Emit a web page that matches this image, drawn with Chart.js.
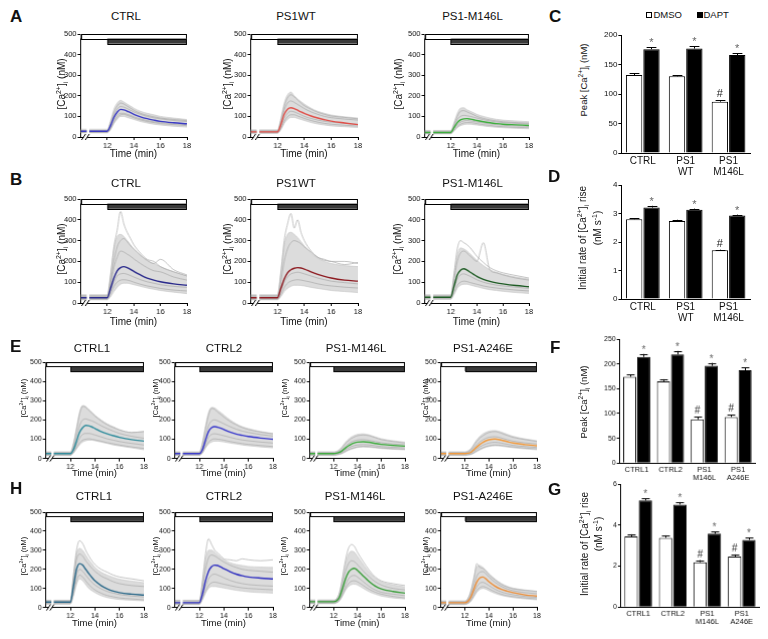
<!DOCTYPE html>
<html>
<head>
<meta charset="utf-8">
<script src="https://cdn.jsdelivr.net/npm/chart.js@4.4.1/dist/chart.umd.min.js"></script>
<style>
  body { margin: 0; width: 768px; height: 639px; position: relative; overflow: hidden; background: #fff;
         font-family: "Liberation Sans", Arial, sans-serif; color: #111; }
  canvas { position: absolute; }
  .t { position: absolute; white-space: nowrap; line-height: 1; }
  .rot { position: absolute; white-space: nowrap; line-height: 1; color: #111; transform: translate(-50%, -50%) rotate(-90deg); }
  sup, sub { font-size: 70%; line-height: 0; }
  .box { position: absolute; width: 6px; height: 6px; box-sizing: border-box; border: 1px solid #000; }
</style>
</head>
<body>
<script>
Chart.defaults.font.family = '"Liberation Sans", Arial, sans-serif';
Chart.defaults.color = '#111';

// time points (min), 10.55 is the axis break
const T = [10, 10.45, 10.55, 10.65, 12, 12.25, 12.5, 12.75, 13, 13.25, 13.5, 13.75, 14, 14.5, 15, 15.5, 16, 17, 18];
const lineTicksX = [12, 14, 16, 18];
const lineTicksY = [0, 100, 200, 300, 400, 500];

// ---- A ----
const aCtrlMean = [28,28,null,28,28, 55,95,120,134,132,125,118,110,98,89,82,76,69,64];
const aCtrlHi   = [38,38,null,38,38, 80,135,165,178,170,160,150,140,125,115,108,100,92,85];
const aCtrlLo   = [20,20,null,20,20, 35,65,85,100,100,95,90,85,75,68,62,58,52,48];
const aCtrlCells = [
  [32,32,null,32,32, 70,120,150,165,160,150,140,130,115,105,98,92,85,80],
  [25,25,null,25,25, 45,80,105,115,115,110,105,98,88,80,74,70,64,60],
  [30,30,null,30,30, 60,105,135,148,145,138,130,122,110,100,93,88,80,75],
  [22,22,null,22,22, 40,70,95,108,110,105,100,93,83,75,70,65,60,55]
];
const aWtMean = [25,25,null,25,25, 60,110,135,142,138,130,122,115,102,92,84,77,68,60];
const aWtHi   = [35,35,null,35,35, 90,165,205,218,200,185,172,160,140,125,115,107,98,92];
const aWtLo   = [18,18,null,18,18, 35,65,85,95,95,90,85,80,70,63,58,54,50,46];
const aWtCells = [
  [30,30,null,30,30, 80,150,190,205,195,180,165,152,135,120,110,102,95,88],
  [22,22,null,22,22, 50,90,115,125,122,115,108,100,90,82,76,72,66,62],
  [28,28,null,28,28, 70,130,165,175,168,158,148,138,122,110,100,94,87,82],
  [20,20,null,20,20, 40,75,98,108,108,102,96,90,80,72,66,62,57,53]
];
const aM146Mean = [22,22,null,22,22, 45,70,83,88,89,87,84,80,74,69,65,62,59,56];
const aM146Hi   = [32,32,null,32,32, 70,115,140,142,132,125,118,110,100,92,86,82,78,74];
const aM146Lo   = [15,15,null,15,15, 28,45,55,60,62,62,60,58,54,50,47,45,42,40];
const aM146Cells = [
  [28,28,null,28,28, 60,100,125,128,122,115,108,100,90,83,78,74,70,67],
  [20,20,null,20,20, 40,60,72,78,80,78,76,73,68,63,60,57,54,52],
  [25,25,null,25,25, 52,85,100,105,103,100,96,92,84,78,73,70,66,63],
  [18,18,null,18,18, 33,50,62,68,70,70,68,65,60,56,52,50,47,45]
];

// ---- B ----
const bCtrlMean = [25,25,null,25,25, 70,120,155,170,175,170,162,152,135,120,110,102,92,85];
const bCtrlHi   = [40,40,null,40,40, 140,260,320,330,320,300,280,260,230,205,190,175,150,130];
const bCtrlLo   = [15,15,null,15,15, 30,55,75,90,95,95,92,88,80,72,66,60,52,45];
const bCtrlCells = [
  [35,35,null,35,35, 130,270,350,440,380,340,310,280,240,210,200,175,150,130],
  [28,28,null,28,28, 90,170,220,250,245,235,225,212,190,170,155,150,125,110],
  [22,22,null,22,22, 60,100,130,140,142,138,132,125,112,102,95,88,80,75],
  [18,18,null,18,18, 45,80,100,110,112,110,106,100,90,82,76,70,62,58],
  [30,30,null,30,30, 100,200,270,300,310,295,275,260,230,205,190,210,160,135]
];
const bWtMean = [25,25,null,25,25, 70,115,145,160,167,170,168,163,150,138,128,120,110,105];
const bWtHi   = [40,40,null,40,40, 150,280,330,340,330,315,295,275,240,215,200,190,180,175];
const bWtLo   = [15,15,null,15,15, 30,55,70,80,85,85,84,82,75,70,65,60,55,50];
const bWtCells = [
  [35,35,null,35,35, 140,300,380,430,360,400,340,300,250,220,205,200,185,195],
  [30,30,null,30,30, 100,200,260,290,300,295,285,270,245,220,210,200,200,190],
  [22,22,null,22,22, 60,100,125,140,145,148,145,140,130,120,112,105,98,92],
  [18,18,null,18,18, 40,75,95,105,110,112,110,107,100,92,86,82,76,72]
];
const bM146Mean = [28,28,null,28,28, 80,135,158,165,158,148,138,128,114,104,97,92,84,78];
const bM146Hi   = [40,40,null,40,40, 130,230,265,260,250,235,220,205,180,160,148,138,125,115];
const bM146Lo   = [18,18,null,18,18, 40,70,85,90,90,86,82,78,70,64,60,56,50,46];
const bM146Cells = [
  [35,35,null,35,35, 140,260,300,290,280,265,245,225,195,170,155,145,132,120],
  [30,30,null,30,30, 110,200,240,250,240,225,210,200,290,160,145,135,120,110],
  [24,24,null,24,24, 70,115,135,140,135,128,120,112,100,92,86,82,76,70],
  [20,20,null,20,20, 50,85,100,105,103,98,94,90,82,76,72,68,62,58]
];

// ---- E ----
const eCtrl1Mean = [25,25,null,25,25, 45,90,135,160,172,170,164,156,140,128,118,110,98,90];
const eCtrl1Hi   = [35,35,null,35,35, 80,160,240,275,270,255,240,225,200,180,165,150,135,140];
const eCtrl1Lo   = [15,15,null,15,15, 28,50,70,85,92,95,95,92,85,78,70,65,55,45];
const eCtrl1Cells = [
  [30,30,null,30,30, 70,150,230,270,265,250,235,220,195,175,160,148,135,140],
  [28,28,null,28,28, 55,110,170,200,205,200,195,188,170,155,142,130,115,105],
  [22,22,null,22,22, 38,70,105,125,130,130,127,122,112,102,95,88,78,70],
  [18,18,null,18,18, 30,55,80,95,100,102,100,97,90,82,76,70,60,52]
];
const eCtrl2Mean = [25,25,null,25,25, 45,95,140,160,165,162,157,150,137,127,120,114,106,100];
const eCtrl2Hi   = [35,35,null,35,35, 85,170,240,265,262,250,238,225,200,180,165,155,140,130];
const eCtrl2Lo   = [15,15,null,15,15, 28,55,75,85,90,90,88,86,80,75,70,66,60,55];
const eCtrl2Cells = [
  [30,30,null,30,30, 75,155,225,260,255,240,228,215,192,175,160,150,137,128],
  [28,28,null,28,28, 55,115,170,195,200,195,188,180,165,152,142,135,124,116],
  [22,22,null,22,22, 38,75,110,125,128,126,122,118,110,102,96,92,85,80],
  [18,18,null,18,18, 30,60,85,98,102,100,98,95,88,82,77,73,67,62]
];
const eM146Mean = [25,25,null,25,25, 27,32,42,55,66,75,81,85,87,84,78,73,68,64];
const eM146Hi   = [35,35,null,35,35, 38,48,65,85,100,112,120,125,128,122,112,103,92,85];
const eM146Lo   = [15,15,null,15,15, 17,20,26,34,42,48,53,57,60,58,55,52,48,45];
const eM146Cells = [
  [30,30,null,30,30, 33,42,58,78,92,104,112,118,122,118,108,98,88,80],
  [28,28,null,28,28, 30,36,48,63,76,86,92,96,98,94,88,82,75,70],
  [22,22,null,22,22, 24,28,36,46,55,62,67,70,72,70,66,62,58,55],
  [18,18,null,18,18, 20,24,30,38,46,52,56,60,63,62,58,55,51,48]
];
const eA246Mean = [25,25,null,25,25, 27,32,45,60,73,84,92,97,101,96,88,80,72,66];
const eA246Hi   = [35,35,null,35,35, 40,52,75,98,115,128,136,142,145,138,126,115,102,92];
const eA246Lo   = [15,15,null,15,15, 17,20,27,36,44,52,58,62,66,64,60,56,50,45];
const eA246Cells = [
  [30,30,null,30,30, 35,46,68,90,106,118,128,135,140,132,120,110,98,88],
  [28,28,null,28,28, 30,38,55,72,86,97,105,110,113,107,98,90,81,75],
  [22,22,null,22,22, 24,28,38,50,60,69,75,80,84,80,74,68,62,57],
  [18,18,null,18,18, 20,23,30,40,49,56,62,66,70,68,64,60,54,50]
];

// ---- H ----
const hCtrl1Mean = [28,28,null,28,28, 110,200,230,222,200,178,158,140,115,98,86,78,70,65];
const hCtrl1Hi   = [38,38,null,38,38, 160,280,310,300,275,250,230,210,185,170,158,148,138,130];
const hCtrl1Lo   = [18,18,null,18,18, 60,120,150,140,120,100,88,78,62,52,46,42,38,35];
const hCtrl1Cells = [
  [35,35,null,35,35, 170,300,350,335,300,270,245,225,200,185,170,160,150,140],
  [32,32,null,32,32, 140,250,280,270,245,225,205,190,165,150,135,125,115,110],
  [24,24,null,24,24, 90,170,200,190,170,150,132,118,98,84,75,68,60,55],
  [20,20,null,20,20, 70,140,170,160,140,120,105,92,75,63,56,50,45,40]
];
const hCtrl2Mean = [25,25,null,25,25, 70,140,190,215,222,220,212,203,188,175,166,160,154,150];
const hCtrl2Hi   = [38,38,null,38,38, 130,250,300,300,290,275,262,250,235,225,220,215,212,210];
const hCtrl2Lo   = [15,15,null,15,15, 40,75,100,110,110,108,105,102,96,90,86,82,78,75];
const hCtrl2Cells = [
  [35,35,null,35,35, 140,280,360,330,300,285,270,255,250,245,255,250,245,250],
  [30,30,null,30,30, 100,200,260,275,270,260,248,238,222,210,200,195,190,185],
  [22,22,null,22,22, 55,110,150,170,175,170,163,155,142,132,125,120,115,112],
  [18,18,null,18,18, 45,85,115,130,133,130,126,122,115,108,103,100,96,93]
];
const hM146Mean = [30,30,null,30,30, 35,55,100,150,185,200,205,195,165,135,112,98,84,75];
const hM146Hi   = [40,40,null,40,40, 45,80,150,230,280,295,290,270,225,185,155,135,118,108];
const hM146Lo   = [20,20,null,20,20, 24,35,60,90,110,120,122,118,100,82,70,60,50,45];
const hM146Cells = [
  [35,35,null,35,35, 45,80,160,250,310,330,320,290,240,195,160,140,125,115],
  [32,32,null,32,32, 40,65,125,190,230,245,240,225,190,160,135,118,100,92],
  [26,26,null,26,26, 30,45,80,120,150,165,168,160,135,110,92,80,70,62],
  [22,22,null,22,22, 26,38,65,100,125,138,140,135,115,95,80,70,58,50]
];
const hA246Mean = [25,25,null,25,25, 32,55,95,135,155,160,150,135,112,96,86,78,66,60];
const hA246Hi   = [35,35,null,35,35, 48,90,160,215,220,210,195,178,150,128,112,102,92,85];
const hA246Lo   = [15,15,null,15,15, 20,32,55,80,95,100,96,88,74,64,57,52,45,40];
const hA246Cells = [
  [30,30,null,30,30, 45,85,150,230,210,205,190,172,145,122,108,98,90,84],
  [28,28,null,28,28, 38,68,115,165,185,188,176,160,132,112,98,88,78,72],
  [22,22,null,22,22, 27,45,78,110,128,132,125,115,96,82,73,67,58,53],
  [18,18,null,18,18, 22,36,62,90,105,110,106,98,82,70,62,57,50,45]
];

// ---- bar panels ----
const cdCats = ['CTRL', ['PS1', 'WT'], ['PS1', 'M146L']];
const cDmso = [132, 130, 87];
const cDmsoErr = [3, 2, 2];
const cDapt = [176, 177, 166];
const cDaptErr = [3, 4, 3];
const cTicks = [0, 50, 100, 150, 200];

const dDmso = [2.80, 2.74, 1.71];
const dDmsoErr = [0.04, 0.04, 0.02];
const dDapt = [3.21, 3.13, 2.93];
const dDaptErr = [0.06, 0.04, 0.03];
const dTicks = [0, 1, 2, 3, 4];
const cdHash = [false, false, true];

const fgCats = ['CTRL1', 'CTRL2', ['PS1', 'M146L'], ['PS1', 'A246E']];
const fDmso = [174, 165, 88, 93];
const fDmsoErr = [5, 4, 5, 4];
const fDapt = [214, 219, 196, 187];
const fDaptErr = [6, 7, 6, 6];
const fTicks = [0, 50, 100, 150, 200, 250];

const gDmso = [3.45, 3.38, 2.19, 2.47];
const gDmsoErr = [0.1, 0.12, 0.1, 0.1];
const gDapt = [5.2, 5.0, 3.58, 3.28];
const gDaptErr = [0.1, 0.12, 0.1, 0.12];
const gTicks = [0, 2, 4, 6];
const fgHash = [false, false, true, true];

const pts = v => T.map((t, i) => ({ x: t, y: v[i] }));

const stimBars = {
    id: 'stimBars',
    afterDatasetsDraw(ch) {
        const { ctx, chartArea: a } = ch;
        const x = ch.scales.x, y = ch.scales.y;
        const x0 = x.getPixelForValue(10), x1 = x.getPixelForValue(18), x12 = x.getPixelForValue(12);
        const y0 = y.getPixelForValue(500), y1 = y.getPixelForValue(478), y2 = y.getPixelForValue(453);
        ctx.save();
        ctx.lineWidth = 1;
        ctx.strokeStyle = '#000';
        ctx.fillStyle = '#fff';
        ctx.fillRect(x0, y0, x1 - x0, y1 - y0);
        ctx.strokeRect(Math.round(x0) + 0.5, Math.round(y0) + 0.5, Math.round(x1 - x0) - 1, Math.round(y1 - y0));
        ctx.fillStyle = '#3a3a3a';
        ctx.fillRect(x12, y1, x1 - x12, y2 - y1);
        ctx.strokeRect(Math.round(x12) + 0.5, Math.round(y1) + 0.5, Math.round(x1 - x12) - 1, Math.round(y2 - y1));
        // axis break
        const by = a.bottom;
        const p1 = x.getPixelForValue(10.22), p2 = x.getPixelForValue(10.5);
        ctx.fillStyle = '#fff';
        ctx.fillRect(p1, by - 1.5, p2 - p1, 3);
        ctx.beginPath();
        [p1, p2].forEach(px => { ctx.moveTo(px - 2, by + 3); ctx.lineTo(px + 2, by - 3); });
        ctx.stroke();
        ctx.restore();
    }
};

const errBars = {
    id: 'errBars',
    afterDatasetsDraw(ch) {
        const { ctx } = ch;
        const y = ch.scales.y;
        const fs = ch.options.markSize;
        ch.data.datasets.forEach((d, di) => {
            ch.getDatasetMeta(di).data.forEach((bar, i) => {
                const top = y.getPixelForValue(d.data[i] + d.err[i]);
                const cw = bar.width * 0.3;
                const bx = Math.round(bar.x) + 0.5;
                ctx.save();
                ctx.strokeStyle = '#000';
                ctx.lineWidth = 1;
                ctx.beginPath();
                ctx.moveTo(bx, bar.y);
                ctx.lineTo(bx, top);
                ctx.moveTo(bx - cw, Math.round(top) + 0.5);
                ctx.lineTo(bx + cw, Math.round(top) + 0.5);
                ctx.stroke();
                ctx.textAlign = 'center';
                ctx.textBaseline = 'alphabetic';
                if (d.mark === '*') {
                    ctx.fillStyle = '#666';
                    ctx.font = fs + 'px "Liberation Sans", Arial';
                    ctx.fillText('*', bar.x, top - 1);
                } else if (d.hash && d.hash[i]) {
                    ctx.fillStyle = '#222';
                    ctx.font = fs + 'px "Liberation Sans", Arial';
                    ctx.fillText('#', bar.x, top - 3);
                }
                ctx.restore();
            });
        });
    }
};

function axisStyle(size) {
    return {
        grid: { display: true, drawOnChartArea: false, drawTicks: true, tickLength: 3, color: '#000', lineWidth: 1 },
        border: { display: true, color: '#000', width: 1 },
        ticks: { font: { size: size }, color: '#111', padding: 1, maxRotation: 0, autoSkip: false }
    };
}

function lineCfg(p) {
    // first dataset is drawn on top, so the mean goes first and the band last
    const ds = [{ data: pts(p.mean), borderColor: p.color, borderWidth: 1.4, fill: false }];
    p.cells.forEach(c => ds.push({ data: pts(c), borderColor: '#ababab', borderWidth: 0.7, fill: false }));
    ds.push({ data: pts(p.lo), borderColor: '#c4c4c4', borderWidth: 0.6, fill: false });
    ds.push({ data: pts(p.hi), borderColor: '#c4c4c4', borderWidth: 0.6, backgroundColor: '#dcdcdc', fill: '-1' });
    const xs = axisStyle(p.fs), ys = axisStyle(p.fs);
    return {
        type: 'line',
        data: { datasets: ds },
        options: {
            responsive: false, animation: false, maintainAspectRatio: false,
            layout: { padding: { top: 6, right: 8, left: 2, bottom: 2 } },
            elements: { point: { radius: 0 }, line: { cubicInterpolationMode: 'monotone' } },
            plugins: { legend: { display: false }, tooltip: { enabled: false } },
            scales: {
                x: Object.assign(xs, { type: 'linear', min: 10, max: 18,
                    afterBuildTicks: s => { s.ticks = lineTicksX.map(v => ({ value: v })); } }),
                y: Object.assign(ys, { min: 0, max: 500,
                    afterBuildTicks: s => { s.ticks = lineTicksY.map(v => ({ value: v })); } })
            }
        },
        plugins: [stimBars]
    };
}

function barCfg(b) {
    const xs = axisStyle(b.xfs), ys = axisStyle(b.yfs);
    xs.grid = { display: false, drawTicks: false, tickLength: 0 };
    xs.ticks.padding = 3;
    xs.ticks.font.lineHeight = 1.05;
    return {
        type: 'bar',
        data: {
            labels: b.cats,
            datasets: [
                { data: b.dmso, err: b.dmsoErr, hash: b.hash, backgroundColor: '#fff', borderColor: '#000', borderWidth: 1 },
                { data: b.dapt, err: b.daptErr, mark: '*', backgroundColor: '#000', borderColor: '#000', borderWidth: 1 }
            ]
        },
        options: {
            responsive: false, animation: false, maintainAspectRatio: false,
            markSize: b.mfs,
            categoryPercentage: b.cp, barPercentage: b.bp,
            layout: { padding: { top: 6, right: 4, left: 2, bottom: 2 } },
            plugins: { legend: { display: false }, tooltip: { enabled: false } },
            scales: {
                x: xs,
                y: Object.assign(ys, { min: 0, max: b.ticks[b.ticks.length - 1],
                    afterBuildTicks: s => { s.ticks = b.ticks.map(v => ({ value: v })); } })
            }
        },
        plugins: [errBars]
    };
}

// place a chart so that its plot area lands on the given box
function mount(box, make) {
    let w = box.r - box.l + 40, h = box.b - box.t + 40;
    for (let k = 0; k < 3; k++) {
        const cv = document.createElement('canvas');
        cv.width = w; cv.height = h;
        cv.style.width = w + 'px'; cv.style.height = h + 'px';
        document.body.appendChild(cv);
        const ch = new Chart(cv, make());
        const a = ch.chartArea;
        const dw = (box.r - box.l) - (a.right - a.left), dh = (box.b - box.t) - (a.bottom - a.top);
        if (k < 2 && (Math.abs(dw) > 0.5 || Math.abs(dh) > 0.5)) {
            ch.destroy(); cv.remove(); w += dw; h += dh; continue;
        }
        cv.style.left = (box.l - a.left) + 'px';
        cv.style.top = (box.t - a.top) + 'px';
        break;
    }
}

function txt(html, x, base, size, align, extra) {
    const d = document.createElement('div');
    d.className = 't';
    d.innerHTML = html;
    d.style.fontSize = size + 'px';
    d.style.left = x + 'px';
    d.style.top = (base - 0.8465 * size) + 'px';
    if (align === 'center') d.style.transform = 'translateX(-50%)';
    if (extra) Object.assign(d.style, extra);
    document.body.appendChild(d);
}

function rot(html, cx, cy, size) {
    const d = document.createElement('div');
    d.className = 'rot';
    d.innerHTML = html;
    d.style.fontSize = size + 'px';
    d.style.left = cx + 'px';
    d.style.top = cy + 'px';
    document.body.appendChild(d);
}

const caLabel = '[Ca<sup>2+</sup>]<sub>i</sub> (nM)';

// ---- line panels ----
const linePanels = [
    { box: { l: 81, t: 34, r: 186, b: 137 }, fs: 7.5, mean: aCtrlMean, hi: aCtrlHi, lo: aCtrlLo, cells: aCtrlCells, color: '#3b3bc4', title: 'CTRL', tx: 126, ty: 20.7, yl: 62, yc: 84, tb: 157.5, lfs: 10 },
    { box: { l: 251, t: 34, r: 357, b: 137 }, fs: 7.5, mean: aWtMean, hi: aWtHi, lo: aWtLo, cells: aWtCells, color: '#e0504a', title: 'PS1WT', tx: 296, ty: 20.7, yl: 228, yc: 84, tb: 157.5, lfs: 10 },
    { box: { l: 425, t: 34, r: 528, b: 137 }, fs: 7.5, mean: aM146Mean, hi: aM146Hi, lo: aM146Lo, cells: aM146Cells, color: '#3fae3f', title: 'PS1-M146L', tx: 472.5, ty: 20.7, yl: 399, yc: 84, tb: 157.5, lfs: 10 },
    { box: { l: 81, t: 199, r: 186, b: 303 }, fs: 7.5, mean: bCtrlMean, hi: bCtrlHi, lo: bCtrlLo, cells: bCtrlCells, color: '#2a2a8c', title: 'CTRL', tx: 126, ty: 187.3, yl: 62, yc: 249, tb: 325, lfs: 10 },
    { box: { l: 251, t: 199, r: 357, b: 303 }, fs: 7.5, mean: bWtMean, hi: bWtHi, lo: bWtLo, cells: bWtCells, color: '#8e1c22', title: 'PS1WT', tx: 296, ty: 187.3, yl: 228, yc: 249, tb: 325, lfs: 10 },
    { box: { l: 425, t: 199, r: 528, b: 303 }, fs: 7.5, mean: bM146Mean, hi: bM146Hi, lo: bM146Lo, cells: bM146Cells, color: '#1f5c25', title: 'PS1-M146L', tx: 472.5, ty: 187.3, yl: 398, yc: 249, tb: 325, lfs: 10 },
    { box: { l: 46, t: 362, r: 143, b: 458 }, fs: 7, mean: eCtrl1Mean, hi: eCtrl1Hi, lo: eCtrl1Lo, cells: eCtrl1Cells, color: '#2f8c9c', title: 'CTRL1', tx: 92, ty: 353, yl: 24, yc: 398, tb: 476, lfs: 7.5 },
    { box: { l: 175, t: 362, r: 272, b: 458 }, fs: 7, mean: eCtrl2Mean, hi: eCtrl2Hi, lo: eCtrl2Lo, cells: eCtrl2Cells, color: '#3838cc', title: 'CTRL2', tx: 224, ty: 353, yl: 156, yc: 398, tb: 476, lfs: 7.5 },
    { box: { l: 310, t: 362, r: 404, b: 458 }, fs: 7, mean: eM146Mean, hi: eM146Hi, lo: eM146Lo, cells: eM146Cells, color: '#3dab3d', title: 'PS1-M146L', tx: 356, ty: 353, yl: 285, yc: 398, tb: 476, lfs: 7.5 },
    { box: { l: 441, t: 362, r: 536, b: 458 }, fs: 7, mean: eA246Mean, hi: eA246Hi, lo: eA246Lo, cells: eA246Cells, color: '#f29a3c', title: 'PS1-A246E', tx: 483, ty: 353, yl: 426, yc: 398, tb: 476, lfs: 7.5 },
    { box: { l: 46, t: 512, r: 143, b: 607 }, fs: 7, mean: hCtrl1Mean, hi: hCtrl1Hi, lo: hCtrl1Lo, cells: hCtrl1Cells, color: '#2d6a8a', title: 'CTRL1', tx: 94, ty: 500.5, yl: 24, yc: 556, tb: 626, lfs: 7.5 },
    { box: { l: 175, t: 512, r: 272, b: 607 }, fs: 7, mean: hCtrl2Mean, hi: hCtrl2Hi, lo: hCtrl2Lo, cells: hCtrl2Cells, color: '#3030c0', title: 'CTRL2', tx: 224, ty: 500.5, yl: 156, yc: 556, tb: 626, lfs: 7.5 },
    { box: { l: 310, t: 512, r: 404, b: 607 }, fs: 7, mean: hM146Mean, hi: hM146Hi, lo: hM146Lo, cells: hM146Cells, color: '#3a9e3a', title: 'PS1-M146L', tx: 355, ty: 500.5, yl: 284, yc: 556, tb: 626, lfs: 7.5 },
    { box: { l: 441, t: 512, r: 536, b: 607 }, fs: 7, mean: hA246Mean, hi: hA246Hi, lo: hA246Lo, cells: hA246Cells, color: '#ec8f3a', title: 'PS1-A246E', tx: 483, ty: 500.5, yl: 426, yc: 556, tb: 626, lfs: 7.5 }
];

linePanels.forEach(p => {
    mount(p.box, () => lineCfg(p));
    txt(p.title, p.tx, p.ty, 11.5, 'center');
    rot(caLabel, p.yl, p.yc, p.lfs);
    txt('Time (min)', (p.box.l + p.box.r) / 2, p.tb, p.fs > 7 ? 10 : 9.5, 'center');
});

// ---- bar panels ----
mount({ l: 621, t: 35, r: 750, b: 153 }, () => barCfg({ cats: cdCats, dmso: cDmso, dmsoErr: cDmsoErr, dapt: cDapt, daptErr: cDaptErr, hash: cdHash, ticks: cTicks, xfs: 10, yfs: 8, mfs: 11, cp: 0.81, bp: 0.94 }));
mount({ l: 621, t: 185, r: 750, b: 299 }, () => barCfg({ cats: cdCats, dmso: dDmso, dmsoErr: dDmsoErr, dapt: dDapt, daptErr: dDaptErr, hash: cdHash, ticks: dTicks, xfs: 10, yfs: 8, mfs: 11, cp: 0.81, bp: 0.94 }));
mount({ l: 620, t: 339, r: 754, b: 462 }, () => barCfg({ cats: fgCats, dmso: fDmso, dmsoErr: fDmsoErr, dapt: fDapt, daptErr: fDaptErr, hash: fgHash, ticks: fTicks, xfs: 7.5, yfs: 7, mfs: 10, cp: 0.83, bp: 0.93 }));
mount({ l: 621, t: 484, r: 758, b: 606 }, () => barCfg({ cats: fgCats, dmso: gDmso, dmsoErr: gDmsoErr, dapt: gDapt, daptErr: gDaptErr, hash: fgHash, ticks: gTicks, xfs: 7.5, yfs: 7, mfs: 10, cp: 0.83, bp: 0.93 }));

rot('Peak ' + caLabel, 584, 80, 9.5);
rot('Initial rate of [Ca<sup>2+</sup>]<sub>i</sub> rise', 583, 238, 10);
rot('(nM s<sup>-1</sup>)', 597.5, 228, 10);
rot('Peak ' + caLabel, 584, 402, 9.5);
rot('Initial rate of [Ca<sup>2+</sup>]<sub>i</sub> rise', 585, 544, 10);
rot('(nM s<sup>-1</sup>)', 599, 534, 10);

// legend
const lw = document.createElement('div'); lw.className = 'box'; lw.style.left = '646px'; lw.style.top = '11.5px'; lw.style.background = '#fff'; document.body.appendChild(lw);
const lb = document.createElement('div'); lb.className = 'box'; lb.style.left = '696.5px'; lb.style.top = '11.5px'; lb.style.background = '#000'; document.body.appendChild(lb);
txt('DMSO', 653.5, 18, 9.5, 'left');
txt('DAPT', 703.5, 18, 9.5, 'left');

// panel letters
[['A', 10, 10], ['B', 10, 173], ['C', 549, 10], ['D', 548, 170], ['E', 10, 340], ['F', 550, 341], ['G', 548, 483], ['H', 10, 482]]
    .forEach(([s, x, capTop]) => txt(s, x, capTop + 12.2, 17, 'left', { fontWeight: 'bold' }));
</script>
</body>
</html>
